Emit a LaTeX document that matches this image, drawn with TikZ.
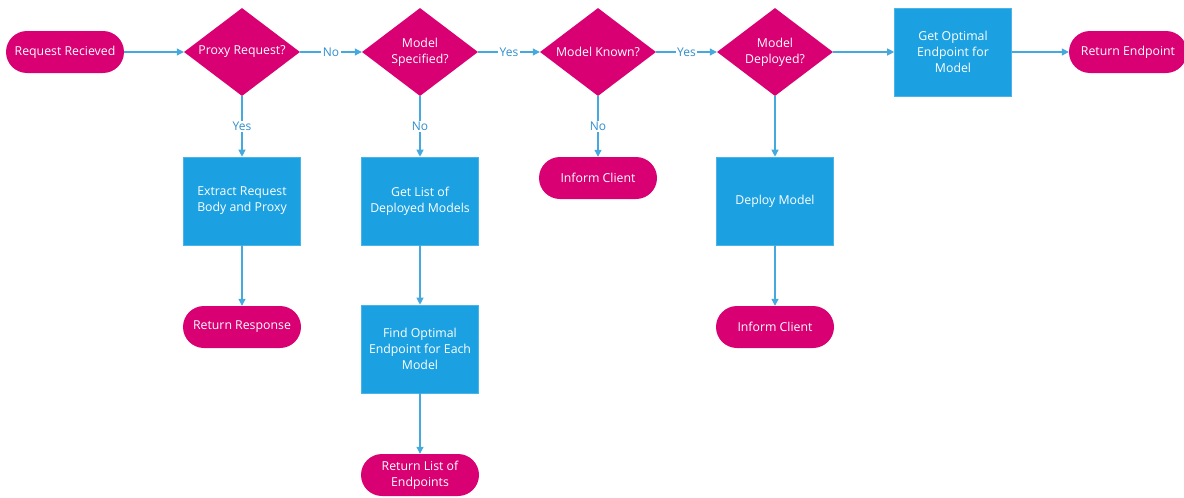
\documentclass[tikz,border=0pt]{standalone}
\usepackage{fontspec}
\setmainfont{Open Sans}
\usetikzlibrary{shapes.geometric,arrows.meta}
\definecolor{flowpink}{HTML}{D80073}
\definecolor{flowblue}{HTML}{1BA1E2}
\definecolor{flowline}{HTML}{45A9DE}
\definecolor{flowlabel}{HTML}{2F8FCF}
\tikzset{
  x=1pt, y=1pt,
  every node/.style={font=\fontsize{12.3}{16}\selectfont, text=white, align=center},
  terminal/.style={fill=flowpink, rounded corners=21pt, minimum width=118pt, minimum height=42pt, inner sep=0pt},
  process/.style={fill=flowblue, draw=flowblue!80!white, line width=0.6pt, minimum width=117pt, minimum height=88pt, inner sep=0pt},
  decision/.style={diamond, fill=flowpink, minimum width=116pt, minimum height=88pt, inner sep=0pt},
  flow/.style={draw=flowline, line width=1.1pt, -{Triangle[length=7pt,width=7pt]}},
  branch/.style={fill=white, text=flowlabel, inner sep=1.5pt, font=\fontsize{12}{14}\selectfont}
}
\begin{document}
\begin{tikzpicture}
\useasboundingbox (0,0) rectangle (1184,-498);

% top row
\node[terminal] (start) at (65,-52) {Request Recieved};
\node[decision, label={center:Proxy Request?}] (proxy) at (242,-52) {};
\node[decision, label={center:Model\\Specified?}] (spec) at (420,-52) {};
\node[decision, label={center:Model Known?}] (known) at (598,-52) {};
\node[decision, label={center:Model\\Deployed?}] (deployed) at (775,-52) {};
\node[process] (optimal) at (953,-52) {Get Optimal\\Endpoint for\\Model};
\node[terminal] (retend) at (1128,-52) {Return Endpoint};

% proxy branch
\node[process] (extract) at (242,-201) {Extract Request\\Body and Proxy};
\node[terminal] (retresp) at (242,-327) {Return Response};

% unspecified model branch
\node[process] (list) at (420,-201) {Get List of\\Deployed Models};
\node[process] (findopt) at (420,-349) {Find Optimal\\Endpoint for Each\\Model};
\node[terminal] (retlist) at (420,-475) {Return List of\\Endpoints};

% unknown model branch
\node[terminal] (inform1) at (598,-178) {Inform Client};

% undeployed model branch
\node[process] (deploy) at (775,-201) {Deploy Model};
\node[terminal] (inform2) at (775,-327) {Inform Client};

% connectors
\draw[flow] (start) -- (proxy);
\draw[flow] (proxy) -- node[branch] {No} (spec);
\draw[flow] (spec) -- node[branch] {Yes} (known);
\draw[flow] (known) -- node[branch] {Yes} (deployed);
\draw[flow] (deployed) -- (optimal);
\draw[flow] (optimal) -- (retend);

\draw[flow] (proxy) -- node[branch] {Yes} (extract);
\draw[flow] (extract) -- (retresp);

\draw[flow] (spec) -- node[branch] {No} (list);
\draw[flow] (list) -- (findopt);
\draw[flow] (findopt) -- (retlist);

\draw[flow] (known) -- node[branch] {No} (inform1);

\draw[flow] (deployed) -- (deploy);
\draw[flow] (deploy) -- (inform2);
\end{tikzpicture}
\end{document}
